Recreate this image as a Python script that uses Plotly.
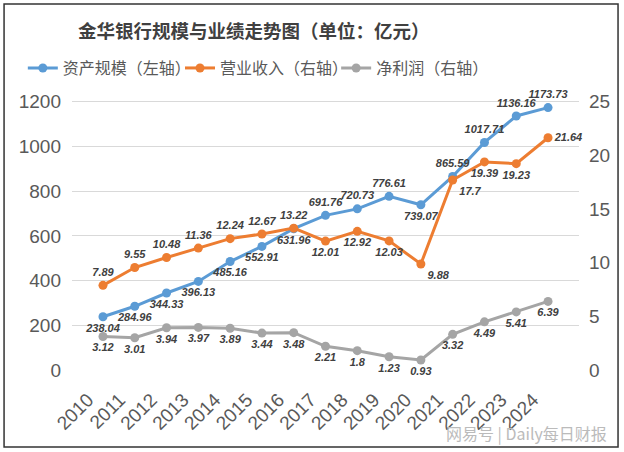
import plotly.graph_objects as go

years = ["2010", "2011", "2012", "2013", "2014", "2015", "2016", "2017",
         "2018", "2019", "2020", "2021", "2022", "2023", "2024"]
assets = [238.04, 284.96, 344.33, 396.13, 485.16, 552.91, 631.96, 691.76,
          720.73, 776.61, 739.07, 865.59, 1017.71, 1136.16, 1173.73]
revenue = [7.89, 9.55, 10.48, 11.36, 12.24, 12.67, 13.22, 12.01,
           12.92, 12.03, 9.88, 17.7, 19.39, 19.23, 21.64]
profit = [3.12, 3.01, 3.94, 3.97, 3.89, 3.44, 3.48, 2.21,
          1.8, 1.23, 0.93, 3.32, 4.49, 5.41, 6.39]

left_ticks = [0, 200, 400, 600, 800, 1000, 1200]
right_ticks = [0, 5, 10, 15, 20, 25]

name_assets = "资产规模（左轴）"
name_revenue = "营业收入（右轴）"
name_profit = "净利润（右轴）"
title_text = "金华银行规模与业绩走势图（单位：亿元）"
watermark = "网易号 | Daily每日财报"

# label placement (style)
pos_assets = ["bottom center"] * 7 + ["top center", "top center", "top center",
              "bottom center", "top center", "top center", "top center", "top center"]
pos_revenue = ["top center"] * 7 + ["bottom center", "bottom center", "bottom center",
               "bottom right", "bottom right", "bottom center", "bottom center", "middle right"]
pos_profit = ["bottom center"] * 15

BLUE = "#5B9BD5"
ORANGE = "#ED7D31"
GRAY = "#A5A5A5"
lab_font = dict(family="Liberation Sans, Arial", size=11, color="#404040",
                style="italic", weight="bold")

L_MAX = 1230
R_MAX = L_MAX / 48.0

def fmt(v):
    return f"{v:g}"

fig = go.Figure()
fig.add_trace(go.Scatter(
    x=years, y=assets, name=name_assets, mode="lines+markers+text",
    line=dict(color=BLUE, width=3), marker=dict(size=9, color=BLUE),
    text=[fmt(v) for v in assets], legend="legend",
    textposition=pos_assets, textfont=lab_font, yaxis="y", cliponaxis=False))
fig.add_trace(go.Scatter(
    x=years, y=revenue, name=name_revenue, mode="lines+markers+text",
    line=dict(color=ORANGE, width=3), marker=dict(size=9, color=ORANGE),
    text=[fmt(v) for v in revenue], legend="legend2",
    textposition=pos_revenue, textfont=lab_font, yaxis="y2", cliponaxis=False))
fig.add_trace(go.Scatter(
    x=years, y=profit, name=name_profit, mode="lines+markers+text",
    line=dict(color=GRAY, width=3), marker=dict(size=9, color=GRAY),
    text=[fmt(v) for v in profit], legend="legend3",
    textposition=pos_profit, textfont=lab_font, yaxis="y2", cliponaxis=False))

tick_font = dict(family="Liberation Sans, Arial", size=19, color="#595959")
leg_font = dict(family="Noto Sans CJK SC", size=16, color="#595959")

def leg(xp):
    return dict(orientation="h", x=xp, xanchor="left", y=1.098, yanchor="middle",
                font=leg_font, itemwidth=30, bgcolor="rgba(0,0,0,0)")

fig.update_layout(
    width=624, height=452,
    margin=dict(l=72, r=45, t=95, b=82),
    paper_bgcolor="white", plot_bgcolor="white",
    showlegend=True,
    legend=leg(-0.097), legend2=leg(0.213), legend3=leg(0.521),
    xaxis=dict(type="category", tickangle=-45, tickfont=tick_font,
               showgrid=False, showline=False, ticks="",
               ticklabelstandoff=14, ticklabelshift=-15),
    yaxis=dict(range=[0, L_MAX], tickvals=left_ticks, tickfont=tick_font,
               showgrid=True, gridcolor="#D9D9D9", gridwidth=1, zeroline=False,
               showline=False, ticks="", ticklabelstandoff=10),
    yaxis2=dict(range=[0, R_MAX], tickvals=right_ticks, tickfont=tick_font,
                overlaying="y", side="right", showgrid=False, zeroline=False,
                showline=False, ticks="", ticklabelstandoff=9),
    annotations=[
        dict(text=title_text, xref="paper", yref="paper", x=0.359, y=1.236,
             xanchor="center", yanchor="middle", showarrow=False,
             font=dict(family="Noto Sans CJK SC", size=18.5, color="#404040", weight="bold")),
        dict(text=watermark, xref="paper", yref="paper", x=1.06, y=-0.23,
             xanchor="right", yanchor="middle", showarrow=False,
             font=dict(family="Noto Sans CJK SC", size=16, color="#BBBBBB")),
    ],
    shapes=[dict(type="rect", xref="paper", yref="paper",
                 x0=-0.134, x1=1.077, y0=-0.28, y1=1.331,
                 line=dict(color="#333333", width=1.5), fillcolor="rgba(0,0,0,0)")],
)

fig.write_html("out.html")
